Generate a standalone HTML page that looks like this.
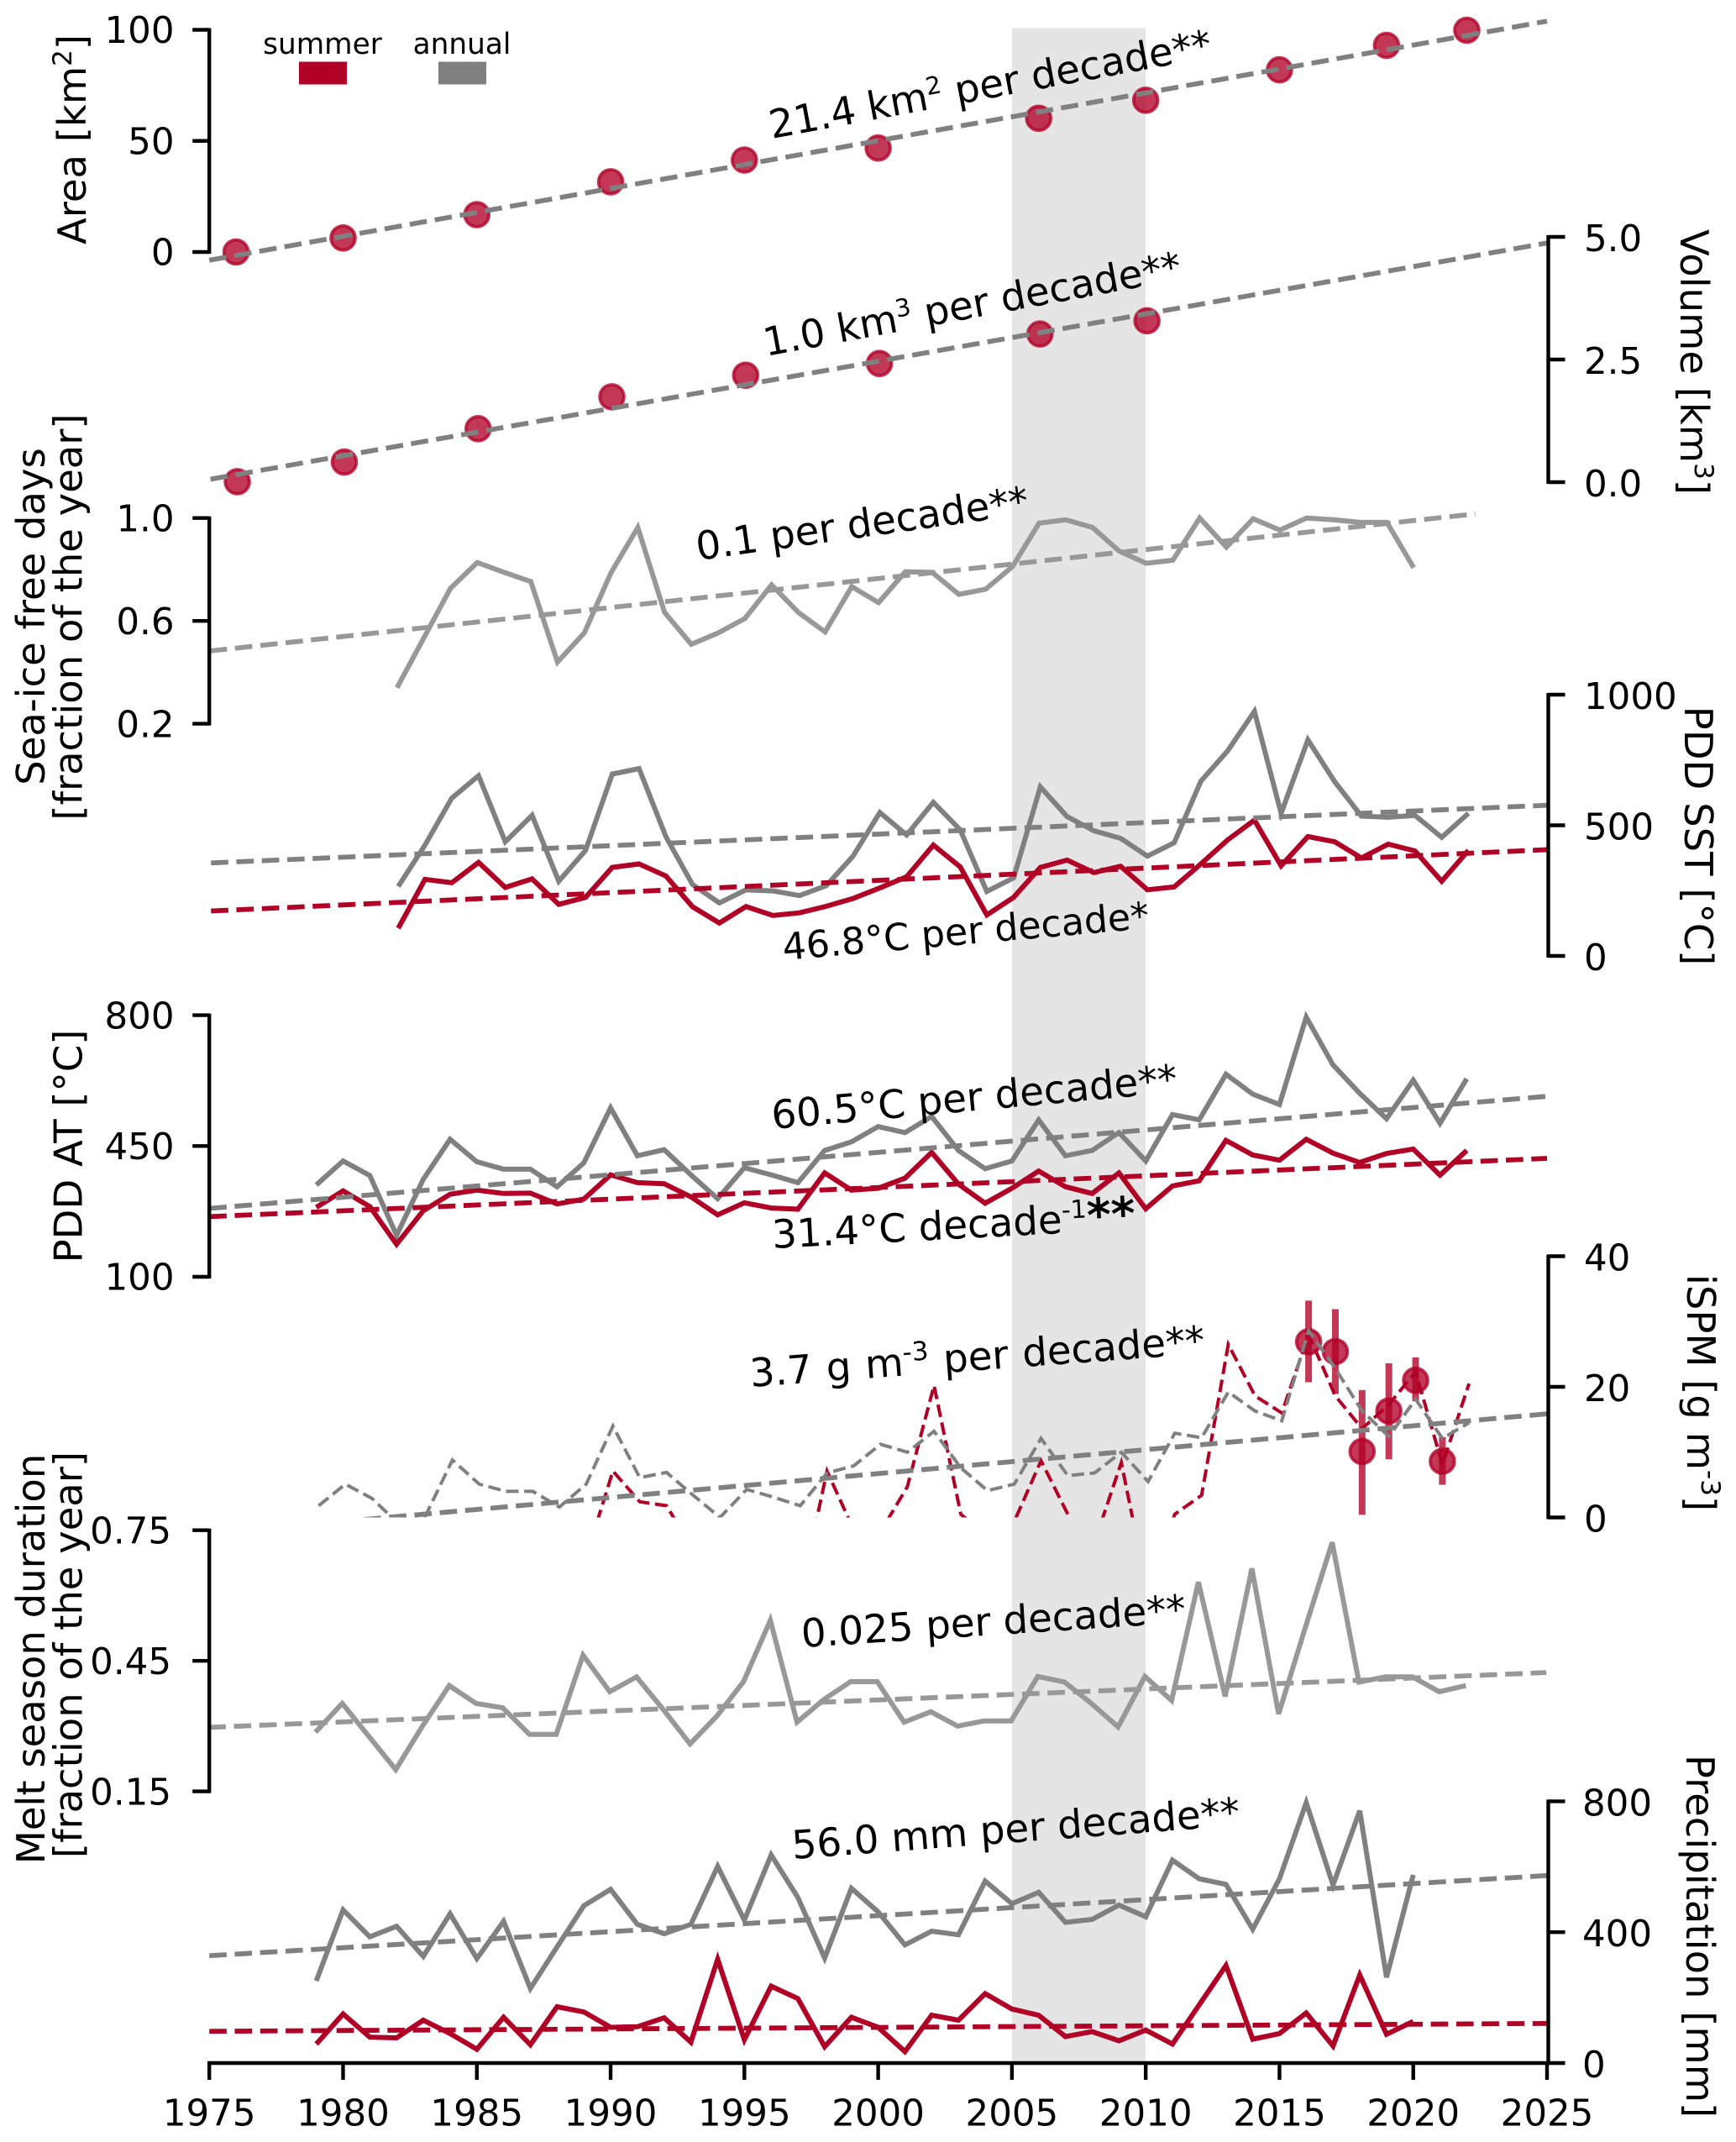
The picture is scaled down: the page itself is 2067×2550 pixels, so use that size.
<!DOCTYPE html>
<html lang="en">
<head>
<meta charset="utf-8">
<title>Glacier and climate time series</title>
<style>
html,body{margin:0;padding:0;background:#fff;}
svg{display:block;}
text{font-family:"DejaVu Sans","Liberation Sans",sans-serif;fill:#000;white-space:pre;}
.axis-title{font-size:46.5px;}
.note{font-size:46.7px;}
.tick-label{font-size:43.5px;}
.legend-label{font-size:34.3px;}
</style>
</head>
<body>
<svg id="chart" xmlns="http://www.w3.org/2000/svg" width="2067" height="2550" viewBox="0 0 2067 2550">
  <defs>
    <clipPath id="ispm-clip"><rect x="230" y="1400" width="1640" height="406.5"/></clipPath>
  </defs>
  <rect x="0" y="0" width="2067" height="2550" fill="#ffffff"/>
  <g id="band-layer"></g>
  <g id="marks-layer"></g>
  <g id="axes-layer"></g>

  <g>
    <text class="legend-label" x="384" y="64" text-anchor="middle">summer</text>
    <rect x="356" y="73.5" width="57" height="27" fill="#b10026"/>
    <text class="legend-label" x="550" y="64" text-anchor="middle">annual</text>
    <rect x="522" y="73.5" width="57" height="27" fill="#808080"/>
  </g>

  <g>
    <text class="axis-title" transform="translate(102 166) rotate(-90)" text-anchor="middle">Area [km<tspan font-size="31" dy="-17">2</tspan><tspan dy="17">]</tspan></text>
    <text class="axis-title" transform="translate(2001 431) rotate(90)" text-anchor="middle">Volume [km<tspan font-size="31" dy="-17">3</tspan><tspan dy="17">]</tspan></text>
    <text class="axis-title" transform="translate(53 734) rotate(-90)" text-anchor="middle">Sea-ice free days</text>
    <text class="axis-title" transform="translate(97.5 734.5) rotate(-90)" text-anchor="middle">[fraction of the year]</text>
    <text class="axis-title" transform="translate(2006 995) rotate(90)" text-anchor="middle">PDD SST [°C]</text>
    <text class="axis-title" transform="translate(97.5 1364.5) rotate(-90)" text-anchor="middle">PDD AT [°C]</text>
    <text class="axis-title" transform="translate(2009 1658) rotate(90)" text-anchor="middle">iSPM [g m<tspan font-size="31" dy="-17">-3</tspan><tspan dy="17">]</tspan></text>
    <text class="axis-title" transform="translate(53 1975) rotate(-90)" text-anchor="middle">Melt season duration</text>
    <text class="axis-title" transform="translate(97.5 1970) rotate(-90)" text-anchor="middle">[fraction of the year]</text>
    <text class="axis-title" transform="translate(2008 2305) rotate(90)" text-anchor="middle">Precipitation [mm]</text>
  </g>

  <g>
    <text class="note" transform="translate(919 165) rotate(-10.5)">21.4 km<tspan font-size="29" dy="-17">2</tspan><tspan dy="17"> per decade**</tspan></text>
    <text class="note" transform="translate(912 424) rotate(-10.5)">1.0 km<tspan font-size="29" dy="-17">3</tspan><tspan dy="17"> per decade**</tspan></text>
    <text class="note" transform="translate(831 667) rotate(-8)">0.1 per decade**</text>
    <text class="note" transform="translate(933 1143) rotate(-5)" style="font-size:44.3px">46.8°C per decade*</text>
    <text class="note" transform="translate(920 1344) rotate(-5.2)">60.5°C per decade**</text>
    <text class="note" transform="translate(920 1486) rotate(-3)">31.4°C decade<tspan font-size="30" dy="-17">-1</tspan><tspan dy="17" font-weight="bold" font-size="55">**</tspan></text>
    <text class="note" transform="translate(894 1651) rotate(-4.2)" word-spacing="2">3.7 g m<tspan font-size="31" dy="-17">-3</tspan><tspan dy="17"> per decade**</tspan></text>
    <text class="note" transform="translate(955 1961) rotate(-3.7)">0.025 per decade**</text>
    <text class="note" transform="translate(944 2213) rotate(-4.3)">56.0 mm per decade**</text>
  </g>
</svg>

<script>
// ---------- shared axis data ----------
const xTickYears = [1975, 1980, 1985, 1990, 1995, 2000, 2005, 2010, 2015, 2020, 2025];
const highlightYears = [2005, 2010];
const trendYears = [1975, 2025];

// ---------- area panel ----------
const areaYears = [1976, 1980, 1985, 1990, 1995, 2000, 2006, 2010, 2015, 2019, 2022];
const areaValues = [0, 6.3, 16.8, 31.6, 41.4, 46.8, 60.2, 68.3, 82, 93, 99.8];
const areaTrend = [-3.7, 103.9];
const areaTicks = [0, 50, 100];
const areaTickLabels = ['0', '50', '100'];

// ---------- volume panel ----------
const volumeYears = [1976, 1980, 1985, 1990, 1995, 2000, 2006, 2010];
const volumeValues = [0.01, 0.41, 1.09, 1.74, 2.18, 2.42, 3.02, 3.29];
const volumeTrend = [0.06, 4.88];
const volumeTicks = [0, 2.5, 5];
const volumeTickLabels = ['0.0', '2.5', '5.0'];

// ---------- sea-ice free days panel ----------
const seaIceStartYear = 1982;
const seaIceValues = [0.34, 0.533, 0.727, 0.827, 0.789, 0.753, 0.44, 0.553, 0.787, 0.963, 0.633, 0.509, 0.553, 0.609, 0.74, 0.633, 0.557, 0.733, 0.671, 0.791, 0.789, 0.703, 0.723, 0.811, 0.98, 0.993, 0.963, 0.871, 0.824, 0.836, 1.0, 0.887, 0.997, 0.953, 1.0, 0.993, 0.983, 0.983, 0.807];
const seaIceTrendYears = [1975, 2022.3];
const seaIceTrend = [0.483, 1.016];
const seaIceTicks = [0.2, 0.6, 1.0];
const seaIceTickLabels = ['0.2', '0.6', '1.0'];

// ---------- PDD SST panel ----------
const sstStartYear = 1982;
const sstAnnual = [266, 424, 604, 690, 437, 538, 286, 404, 696, 717, 457, 273, 203, 253, 249, 231, 269, 382, 549, 463, 588, 483, 247, 299, 647, 533, 479, 450, 382, 433, 669, 785, 936, 546, 827, 667, 535, 531, 538, 454, 546];
const sstSummer = [106, 293, 280, 358, 262, 295, 197, 224, 339, 352, 306, 188, 126, 189, 155, 165, 190, 220, 260, 303, 424, 341, 157, 224, 339, 367, 319, 343, 253, 264, 352, 444, 520, 345, 457, 437, 375, 428, 402, 286, 404];
const sstAnnualTrend = [356, 577];
const sstSummerTrend = [172, 407];
const sstTicks = [0, 500, 1000];
const sstTickLabels = ['0', '500', '1000'];

// ---------- PDD AT panel ----------
const atStartYear = 1979;
const atAnnual = [346, 410, 371, 211, 361, 468, 408, 388, 388, 341, 405, 552, 424, 440, 373, 309, 392, 373, 352, 438, 461, 502, 486, 529, 438, 389, 410, 520, 424, 438, 486, 410, 534, 520, 642, 589, 561, 795, 667, 591, 523, 626, 511, 630];
const atSummer = [286, 330, 288, 187, 277, 321, 332, 323, 324, 295, 308, 373, 352, 349, 314, 266, 298, 284, 281, 378, 332, 337, 364, 433, 348, 297, 337, 383, 341, 323, 378, 282, 343, 357, 465, 426, 412, 468, 431, 406, 430, 442, 372, 438];
const atAnnualTrend = [283, 583];
const atSummerTrend = [261, 417];
const atTicks = [100, 450, 800];
const atTickLabels = ['100', '450', '800'];

// ---------- iSPM panel ----------
const ispmAnnualStartYear = 1979;
const ispmAnnual = [1.8, 5.1, 2.9, -1, 0.3, 8.8, 5.1, 4, 4, 1.6, 5.1, 14, 6.1, 6.9, 3.4, 0, 4.3, 3.1, 1.8, 6.8, 7.9, 11.2, 10, 13.2, 7.6, 4.1, 5.1, 12.1, 6.4, 6.8, 10, 5.5, 12.9, 12.2, 19.2, 16.3, 14.8, 28.6, 22.8, 16.3, 12.4, 18.1, 12.1, 14.5];
const ispmSummerStartYear = 1989;
const ispmSummer = [-6, 7.1, 2.4, 1.8, -5, -8, -8, -8, -12, 7.1, -1.9, -2.2, 4.7, 20.2, 0.5, -3, -0.6, 8.7, 0.5, -3.8, 8.4, -11.8, 0.5, 3.4, 26.5, 18.6, 16, 28, 18.6, 13.6, 17.3, 22.3, 8.1, 20.5];
const ispmTrend = [-2.4, 15.9];
const ispmPointYears = [2016, 2017, 2018, 2019, 2020, 2021];
const ispmPointValues = [26.9, 25.4, 10.1, 16.3, 21, 8.6];
const ispmPointHigh = [33.2, 31.9, 19.5, 23.6, 24.5, 12.3];
const ispmPointLow = [20.7, 18.9, 0.4, 8.9, 17.8, 5];
const ispmTicks = [0, 20, 40];
const ispmTickLabels = ['0', '20', '40'];

// ---------- melt season panel ----------
const meltStartYear = 1979;
const meltValues = [0.286, 0.352, 0.276, 0.2, 0.3, 0.393, 0.352, 0.342, 0.281, 0.281, 0.463, 0.379, 0.413, 0.338, 0.259, 0.323, 0.402, 0.543, 0.309, 0.361, 0.402, 0.402, 0.309, 0.333, 0.3, 0.312, 0.312, 0.414, 0.401, 0.352, 0.298, 0.414, 0.359, 0.631, 0.368, 0.662, 0.328, 0.527, 0.722, 0.401, 0.413, 0.413, 0.379, 0.393];
const meltTrend = [0.297, 0.423];
const meltTicks = [0.15, 0.45, 0.75];
const meltTickLabels = ['0.15', '0.45', '0.75'];

// ---------- precipitation panel ----------
const precipStartYear = 1979;
const precipAnnual = [251, 468, 386, 418, 326, 456, 319, 433, 228, 355, 481, 531, 424, 395, 424, 601, 437, 636, 506, 321, 534, 462, 361, 403, 392, 556, 487, 522, 430, 439, 483, 447, 620, 563, 546, 409, 563, 796, 544, 771, 262, 575];
const precipSummer = [58, 150, 79, 77, 131, 90, 42, 140, 56, 172, 156, 109, 111, 138, 64, 317, 71, 235, 197, 50, 140, 109, 35, 146, 131, 212, 165, 146, 81, 96, 68, 101, 58, 178, 298, 73, 90, 153, 52, 269, 88, 127];
const precipAnnualTrend = [328, 573];
const precipSummerTrend = [97, 121];
const precipTicks = [0, 400, 800];
const precipTickLabels = ['0', '400', '800'];

// ---------- scales ----------
const SVGNS = 'http://www.w3.org/2000/svg';
const RED = '#b10026';
const GRAY = '#808080';
const LIGHT = '#989898';
const AXIS_LEFT = 249.2;
const AXIS_RIGHT = 1842;
const AXIS_BOTTOM = 2456;

function xScale(year) {
  return AXIS_LEFT + (year - 1975) * (AXIS_RIGHT - AXIS_LEFT) / 50;
}
function makeYScale(d0, d1, p0, p1) {
  return function (v) { return p0 + (v - d0) * (p1 - p0) / (d1 - d0); };
}
const yArea = makeYScale(0, 100, 300, 35.5);
const yVolume = makeYScale(0, 5, 574, 282);
const ySeaIce = makeYScale(0.2, 1, 861.6, 616.7);
const ySst = makeYScale(0, 1000, 1138, 827);
const yAt = makeYScale(100, 800, 1520, 1208.6);
const yIspm = makeYScale(0, 40, 1806.5, 1495.5);
const yMelt = makeYScale(0.15, 0.75, 2132.6, 1821.7);
const yPrecip = makeYScale(0, 800, 2456, 2144.4);

const marks = document.getElementById('marks-layer');
const axes = document.getElementById('axes-layer');
const bands = document.getElementById('band-layer');

function make(tag, parent, name, attrs) {
  const el = document.createElementNS(SVGNS, tag);
  
  
  for (const k in attrs) el.setAttribute(k, attrs[k]);
  parent.appendChild(el);
  return el;
}
function panelGroup(name, dx) {
  return make('g', marks, name, { transform: 'translate(' + dx + ' 0)' });
}
function drawSeries(parent, name, startYear, values, yFn, color, width, dash) {
  const pts = values.map(function (v, i) {
    return xScale(startYear + i).toFixed(1) + ',' + yFn(v).toFixed(1);
  }).join(' ');
  const attrs = { points: pts, fill: 'none', stroke: color, 'stroke-width': width, 'stroke-linejoin': 'miter' };
  if (dash) attrs['stroke-dasharray'] = dash;
  make('polyline', parent, name, attrs);
}
function drawTrend(parent, name, years, values, yFn, color) {
  make('line', parent, name, {
    x1: xScale(years[0]), y1: yFn(values[0]), x2: xScale(years[1]), y2: yFn(values[1]),
    stroke: color, 'stroke-width': 5.8, 'stroke-dasharray': '20.7 9.6'
  });
}
function drawPoints(parent, name, years, values, yFn) {
  years.forEach(function (yr, i) {
    make('circle', parent, name + '-' + yr, {
      cx: xScale(yr), cy: yFn(values[i]), r: 14.4,
      fill: RED, 'fill-opacity': 0.78, stroke: RED, 'stroke-opacity': 0.78, 'stroke-width': 3.8
    });
  });
}
function drawLeftAxis(name, ticks, labels, yFn, labelRight) {
  const g = make('g', axes, name, {});
  make('line', g, name + '-spine', { x1: AXIS_LEFT, x2: AXIS_LEFT, y1: yFn(ticks[0]) + 2, y2: yFn(ticks[ticks.length - 1]) - 2, stroke: '#000', 'stroke-width': 4.4 });
  ticks.forEach(function (t, i) {
    const y = yFn(t);
    make('line', g, name + '-tick', { x1: AXIS_LEFT - 20, x2: AXIS_LEFT, y1: y, y2: y, stroke: '#000', 'stroke-width': 4.4 });
    const label = make('text', g, name + '-tick-label', { x: labelRight, y: y + 15.7, 'text-anchor': 'end', class: 'tick-label' });
    label.textContent = labels[i];
  });
}
function drawRightAxis(name, ticks, labels, yFn, labelLeft) {
  const g = make('g', axes, name, {});
  const sx = AXIS_RIGHT + 1.5;
  make('line', g, name + '-spine', { x1: sx, x2: sx, y1: yFn(ticks[0]) + 2, y2: yFn(ticks[ticks.length - 1]) - 2, stroke: '#000', 'stroke-width': 4.4 });
  ticks.forEach(function (t, i) {
    const y = yFn(t);
    make('line', g, name + '-tick', { x1: sx, x2: sx + 20, y1: y, y2: y, stroke: '#000', 'stroke-width': 4.4 });
    const label = make('text', g, name + '-tick-label', { x: labelLeft, y: y + 17, 'text-anchor': 'start', class: 'tick-label' });
    label.textContent = labels[i];
  });
}

// ---------- highlight band ----------
make('rect', bands, 'highlight-band-2005-2010', {
  x: xScale(highlightYears[0]), y: 33.5,
  width: xScale(highlightYears[1]) - xScale(highlightYears[0]),
  height: AXIS_BOTTOM - 33.5, fill: '#e5e5e5'
});

// ---------- area ----------
const gArea = panelGroup('area-panel', 0);
drawPoints(gArea, 'area-point', areaYears, areaValues, yArea);
drawTrend(gArea, 'area-trend-line', trendYears, areaTrend, yArea, GRAY);

// ---------- volume ----------
const gVolume = panelGroup('volume-panel', 1.5);
drawPoints(gVolume, 'volume-point', volumeYears, volumeValues, yVolume);
drawTrend(gVolume, 'volume-trend-line', trendYears, volumeTrend, yVolume, GRAY);

// ---------- sea ice ----------
const gSeaIce = panelGroup('sea-ice-panel', 0.5);
drawSeries(gSeaIce, 'sea-ice-line', seaIceStartYear, seaIceValues, ySeaIce, LIGHT, 6);
drawTrend(gSeaIce, 'sea-ice-trend-line', seaIceTrendYears, seaIceTrend, ySeaIce, LIGHT);

// ---------- PDD SST ----------
const gSst = panelGroup('pdd-sst-panel', 2);
drawSeries(gSst, 'pdd-sst-annual-line', sstStartYear, sstAnnual, ySst, GRAY, 6);
drawSeries(gSst, 'pdd-sst-summer-line', sstStartYear, sstSummer, ySst, RED, 6);
drawTrend(gSst, 'pdd-sst-annual-trend-line', trendYears, sstAnnualTrend, ySst, GRAY);
drawTrend(gSst, 'pdd-sst-summer-trend-line', trendYears, sstSummerTrend, ySst, RED);

// ---------- PDD AT ----------
const gAt = panelGroup('pdd-at-panel', 0);
drawSeries(gAt, 'pdd-at-annual-line', atStartYear, atAnnual, yAt, GRAY, 6);
drawSeries(gAt, 'pdd-at-summer-line', atStartYear, atSummer, yAt, RED, 6);
drawTrend(gAt, 'pdd-at-annual-trend-line', trendYears, atAnnualTrend, yAt, GRAY);
drawTrend(gAt, 'pdd-at-summer-trend-line', trendYears, atSummerTrend, yAt, RED);

// ---------- iSPM ----------
const gIspm = panelGroup('ispm-panel', 2.8);
gIspm.setAttribute('clip-path', 'url(#ispm-clip)');
ispmPointYears.forEach(function (yr, i) {
  make('line', gIspm, 'ispm-error-bar-' + yr, {
    x1: xScale(yr), x2: xScale(yr), y1: yIspm(ispmPointLow[i]), y2: yIspm(ispmPointHigh[i]),
    stroke: RED, 'stroke-opacity': 0.78, 'stroke-width': 8
  });
});
drawPoints(gIspm, 'ispm-point', ispmPointYears, ispmPointValues, yIspm);
drawSeries(gIspm, 'ispm-summer-line', ispmSummerStartYear, ispmSummer, yIspm, RED, 4, '15 6.7');
drawSeries(gIspm, 'ispm-annual-line', ispmAnnualStartYear, ispmAnnual, yIspm, GRAY, 4, '15 6.7');
drawTrend(gIspm, 'ispm-trend-line', trendYears, ispmTrend, yIspm, GRAY);

// ---------- melt season ----------
const gMelt = panelGroup('melt-season-panel', -1);
drawSeries(gMelt, 'melt-season-line', meltStartYear, meltValues, yMelt, LIGHT, 6);
drawTrend(gMelt, 'melt-season-trend-line', trendYears, meltTrend, yMelt, LIGHT);

// ---------- precipitation ----------
const gPrecip = panelGroup('precipitation-panel', 0);
drawSeries(gPrecip, 'precipitation-annual-line', precipStartYear, precipAnnual, yPrecip, GRAY, 6);
drawSeries(gPrecip, 'precipitation-summer-line', precipStartYear, precipSummer, yPrecip, RED, 6);
drawTrend(gPrecip, 'precipitation-annual-trend-line', trendYears, precipAnnualTrend, yPrecip, GRAY);
drawTrend(gPrecip, 'precipitation-summer-trend-line', trendYears, precipSummerTrend, yPrecip, RED);

// ---------- axes ----------
drawLeftAxis('area-y-axis', areaTicks, areaTickLabels, yArea, 207.5);
drawRightAxis('volume-y-axis', volumeTicks, volumeTickLabels, yVolume, 1886);
drawLeftAxis('sea-ice-y-axis', seaIceTicks, seaIceTickLabels, ySeaIce, 207.5);
drawRightAxis('pdd-sst-y-axis', sstTicks, sstTickLabels, ySst, 1886);
drawLeftAxis('pdd-at-y-axis', atTicks, atTickLabels, yAt, 207.5);
drawRightAxis('ispm-y-axis', ispmTicks, ispmTickLabels, yIspm, 1886);
drawLeftAxis('melt-season-y-axis', meltTicks, meltTickLabels, yMelt, 204);
drawRightAxis('precipitation-y-axis', precipTicks, precipTickLabels, yPrecip, 1884);

const xAxis = make('g', axes, 'x-axis', {});
make('line', xAxis, 'x-axis-line', { x1: AXIS_LEFT - 2.2, x2: AXIS_RIGHT + 3.7, y1: AXIS_BOTTOM, y2: AXIS_BOTTOM, stroke: '#000', 'stroke-width': 4.4 });
xTickYears.forEach(function (yr) {
  const x = xScale(yr);
  make('line', xAxis, 'x-axis-tick-' + yr, { x1: x, x2: x, y1: AXIS_BOTTOM, y2: AXIS_BOTTOM + 20, stroke: '#000', 'stroke-width': 4.4 });
  const label = make('text', xAxis, 'x-axis-tick-label-' + yr, { x: x, y: 2530.5, 'text-anchor': 'middle', class: 'tick-label' });
  label.textContent = String(yr);
});
</script>
</body>
</html>
